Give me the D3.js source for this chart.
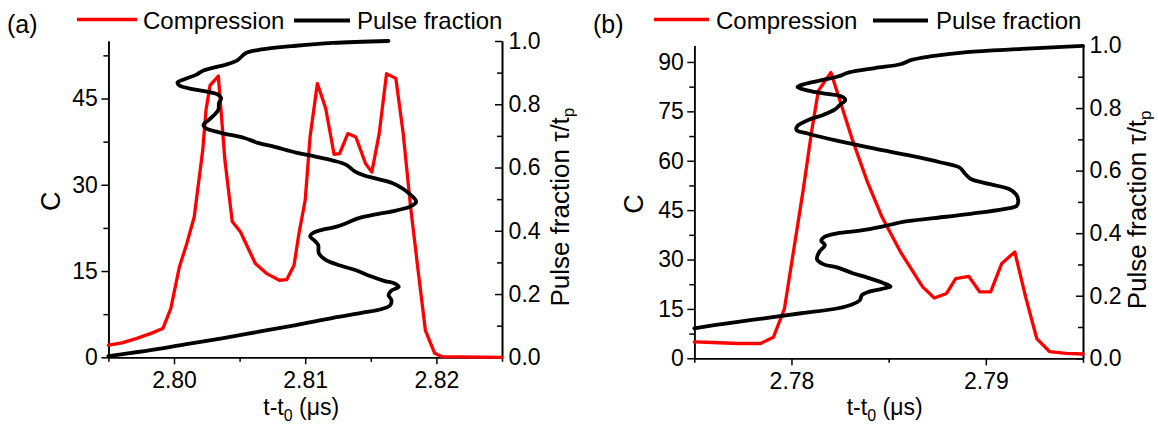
<!DOCTYPE html>
<html><head><meta charset="utf-8">
<script src="https://cdn.jsdelivr.net/npm/d3@7/dist/d3.min.js"></script>
<style>
body{margin:0;background:#fff;}
svg text{font-family:"Liberation Sans",Arial,sans-serif;fill:#000;}
</style></head>
<body><svg id="chart" width="1158" height="424"></svg>
<script>
// ---------- DATA ----------
// Panel (a): compression C vs t-t0 (us)
const compA_t = [2.79500,2.79604,2.79717,2.79830,2.79915,2.79976,2.80041,2.80098,2.80154,2.80219,2.80244,2.80275,2.80338,2.80388,2.80444,2.80507,2.80620,2.80704,2.80803,2.80859,2.80915,2.80952,2.81000,2.81037,2.81093,2.81156,2.81220,2.81262,2.81325,2.81386,2.81460,2.81508,2.81564,2.81620,2.81691,2.81747,2.81803,2.81860,2.81916,2.81987,2.82043,2.82500];
const compA_C = [2.1,2.5,3.3,4.2,5.0,8.5,15.7,19.8,24.4,36.0,43.0,47.3,48.9,34.3,23.6,21.8,16.3,14.6,13.4,13.5,16.0,21.5,27.3,38.3,47.6,43.3,35.3,35.4,38.9,38.3,33.7,32.2,38.9,49.3,48.5,38.9,26.2,15.2,4.7,0.7,0.1,0.0];
// Panel (a): pulse fraction (parametric path, in drawing order)
const fracA_t = [2.79500,2.79661,2.79858,2.80084,2.80366,2.80648,2.80930,2.81212,2.81438,2.81578,2.81649,2.81657,2.81635,2.81657,2.81713,2.81677,2.81607,2.81494,2.81381,2.81268,2.81156,2.81104,2.81099,2.81071,2.81037,2.81056,2.81127,2.81240,2.81325,2.81409,2.81550,2.81691,2.81804,2.81846,2.81818,2.81748,2.81663,2.81550,2.81451,2.81381,2.81310,2.81212,2.81071,2.80930,2.80761,2.80648,2.80530,2.80366,2.80239,2.80225,2.80281,2.80338,2.80343,2.80360,2.80338,2.80253,2.80140,2.80041,2.80027,2.80084,2.80168,2.80225,2.80295,2.80394,2.80479,2.80549,2.80648,2.80930,2.81212,2.81635];
const fracA_f = [0.004,0.013,0.025,0.041,0.060,0.081,0.102,0.125,0.141,0.152,0.165,0.181,0.197,0.211,0.223,0.234,0.241,0.257,0.276,0.290,0.308,0.329,0.355,0.369,0.382,0.392,0.403,0.413,0.426,0.440,0.453,0.464,0.477,0.492,0.508,0.532,0.551,0.564,0.575,0.587,0.609,0.622,0.635,0.647,0.666,0.677,0.694,0.709,0.725,0.735,0.756,0.783,0.804,0.820,0.830,0.840,0.848,0.859,0.869,0.880,0.893,0.907,0.915,0.925,0.938,0.962,0.972,0.985,0.994,1.000];
// Panel (b)
const compB_t = [2.77500,2.77595,2.77727,2.77841,2.77907,2.77964,2.78009,2.78060,2.78104,2.78138,2.78203,2.78239,2.78315,2.78391,2.78466,2.78561,2.78675,2.78735,2.78798,2.78845,2.78912,2.78968,2.79025,2.79082,2.79149,2.79205,2.79262,2.79329,2.79414,2.79500];
const compB_C = [5.0,4.8,4.5,4.5,6.4,15.1,32.0,51.0,69.0,81.2,86.8,80.2,66.1,53.5,42.9,32.3,21.7,18.3,19.7,24.2,24.9,20.2,20.2,28.8,32.3,18.6,6.0,2.0,1.5,1.3];
const fracB_t = [2.77500,2.77670,2.77860,2.78050,2.78239,2.78315,2.78352,2.78362,2.78400,2.78466,2.78510,2.78466,2.78391,2.78315,2.78239,2.78163,2.78131,2.78144,2.78172,2.78153,2.78172,2.78239,2.78352,2.78466,2.78580,2.78732,2.78921,2.79092,2.79158,2.79167,2.79158,2.79120,2.78997,2.78921,2.78893,2.78865,2.78769,2.78618,2.78429,2.78239,2.78087,2.78026,2.78031,2.78087,2.78163,2.78220,2.78249,2.78277,2.78258,2.78182,2.78087,2.78031,2.78068,2.78163,2.78239,2.78296,2.78429,2.78561,2.78618,2.78713,2.78902,2.79186,2.79500];
const fracB_f = [0.096,0.112,0.128,0.144,0.160,0.173,0.186,0.202,0.213,0.222,0.229,0.242,0.258,0.272,0.290,0.301,0.317,0.341,0.362,0.376,0.389,0.400,0.408,0.421,0.437,0.448,0.462,0.477,0.487,0.501,0.522,0.541,0.560,0.574,0.590,0.610,0.626,0.647,0.670,0.695,0.718,0.730,0.743,0.762,0.778,0.794,0.810,0.826,0.837,0.845,0.856,0.867,0.877,0.890,0.901,0.914,0.928,0.940,0.954,0.965,0.979,0.989,0.999];
// Ticks
const xTicksA = [2.80,2.81,2.82], xMinorA = [2.795,2.805,2.815,2.825];
const xTicksB = [2.78,2.79], xMinorB = [2.775,2.785,2.795];
const yTicksA = [0,15,30,45], yMinorA = [7.5,22.5,37.5,52.5];
const yTicksB = [0,15,30,45,60,75,90], yMinorB = [7.5,22.5,37.5,52.5,67.5,82.5];
const fracTicks = [0,0.2,0.4,0.6,0.8,1.0], fracMinor = [0.1,0.3,0.5,0.7,0.9];
const legendLabels = ["Compression","Pulse fraction"];
const panelLabels = ["(a)","(b)"];

const svg = d3.select("#chart");
const FONT = 23;

function panel(o){
  const g = svg.append("g");
  const x = d3.scaleLinear().domain(o.xDom).range([o.L,o.R]);
  const y = d3.scaleLinear().domain(o.yDom).range([o.B,o.T]);
  const y2 = d3.scaleLinear().domain([0,1]).range([o.B,o.T]);

  const styleAxis = sel => {
    sel.select(".domain").attr("stroke","#000").attr("stroke-width",1.6);
    sel.selectAll(".tick line").attr("stroke","#000").attr("stroke-width",1.5);
    sel.selectAll("text").attr("font-size",FONT).attr("font-family","Liberation Sans, Arial, sans-serif");
  };
  // bottom
  g.append("g").attr("transform",`translate(0,${o.B})`)
    .call(d3.axisBottom(x).tickValues(o.xMinor).tickSize(4.5).tickSizeOuter(0).tickFormat(""))
    .call(styleAxis);
  g.append("g").attr("transform",`translate(0,${o.B})`)
    .call(d3.axisBottom(x).tickValues(o.xTicks).tickSize(7).tickPadding(7.7).tickSizeOuter(0).tickFormat(d3.format(".2f")))
    .call(styleAxis);
  // left
  g.append("g").attr("transform",`translate(${o.L},0)`)
    .call(d3.axisLeft(y).tickValues(o.yMinor).tickSize(5).tickSizeOuter(0).tickFormat(""))
    .call(styleAxis);
  g.append("g").attr("transform",`translate(${o.L},0)`)
    .call(d3.axisLeft(y).tickValues(o.yTicks).tickSize(7).tickPadding(3.5).tickSizeOuter(0).tickFormat(d3.format("d")))
    .call(styleAxis);
  // right (ticks inward)
  g.append("g").attr("transform",`translate(${o.R},0)`)
    .call(d3.axisRight(y2).tickValues(fracMinor).tickSize(-5).tickSizeOuter(0).tickFormat(""))
    .call(styleAxis);
  g.append("g").attr("transform",`translate(${o.R},0)`)
    .call(d3.axisRight(y2).tickValues(fracTicks).tickSize(-7).tickPadding(6.6).tickSizeOuter(0).tickFormat(d3.format(".1f")))
    .call(styleAxis);

  // lines
  const red = o.ct.map((t,i)=>[t,o.cc[i]]);
  const blk = o.ft.map((t,i)=>[t,o.ff[i]]);
  g.append("path").datum(red).attr("fill","none").attr("stroke","#ff0000").attr("stroke-width",3.3)
    .attr("stroke-linejoin","round").attr("stroke-linecap","round")
    .attr("d",d3.line().x(d=>x(d[0])).y(d=>y(d[1])));
  g.append("path").datum(blk).attr("fill","none").attr("stroke","#000").attr("stroke-width",3.8)
    .attr("stroke-linejoin","round").attr("stroke-linecap","round")
    .attr("d",d3.line().curve(d3.curveCatmullRom.alpha(0.5)).x(d=>x(d[0])).y(d=>y2(d[1])));

  // titles
  const xt = g.append("text").attr("x",(o.L+o.R)/2-4).attr("y",415).attr("text-anchor","middle").attr("font-size",FONT);
  xt.append("tspan").text("t-t");
  xt.append("tspan").attr("font-size",16).attr("dy",6).text("0");
  xt.append("tspan").attr("dy",-6).text(" (\u03bcs)");
  g.append("text").attr("transform",`translate(${o.cX},${(o.T+o.B)/2+2}) rotate(-90)`)
    .attr("text-anchor","middle").attr("font-size",27).text("C");
  const rt = g.append("text").attr("transform",`translate(${o.R+o.rOff},${(o.T+o.B)/2+8}) rotate(-90)`)
    .attr("text-anchor","middle").attr("font-size",26);
  rt.append("tspan").text("Pulse fraction \u03c4/t");
  rt.append("tspan").attr("font-size",17).attr("dy",5).text("p");

  // legend
  g.append("line").attr("x1",o.lg[0]).attr("x2",o.lg[1]).attr("y1",19.5).attr("y2",19.5)
    .attr("stroke","#ff0000").attr("stroke-width",3.5);
  g.append("text").attr("x",o.lg[2]).attr("y",28.5).attr("font-size",24).text(legendLabels[0]);
  g.append("line").attr("x1",o.lg[3]).attr("x2",o.lg[4]).attr("y1",20.5).attr("y2",20.5)
    .attr("stroke","#000").attr("stroke-width",3.8);
  g.append("text").attr("x",o.lg[5]).attr("y",28.5).attr("font-size",24).text(legendLabels[1]);
  g.append("text").attr("x",o.pl[0]).attr("y",o.pl[1]).attr("font-size",25).text(o.label);
}

panel({L:108.4,R:502,T:41,B:357.3,xDom:[2.795,2.825],yDom:[0,55],
  xTicks:xTicksA,xMinor:xMinorA,yTicks:yTicksA,yMinor:yMinorA,
  ct:compA_t,cc:compA_C,ft:fracA_t,ff:fracA_f,cX:60,rOff:67,
  lg:[77,137,143,294,350,357],pl:[7,33],label:panelLabels[0]});
panel({L:694.3,R:1083,T:45.5,B:358.3,xDom:[2.775,2.795],yDom:[0,95],
  xTicks:xTicksB,xMinor:xMinorB,yTicks:yTicksB,yMinor:yMinorB,
  ct:compB_t,cc:compB_C,ft:fracB_t,ff:fracB_f,cX:643,rOff:63,
  lg:[654,709,716,873,928,936],pl:[593,33],label:panelLabels[1]});
</script></body></html>
